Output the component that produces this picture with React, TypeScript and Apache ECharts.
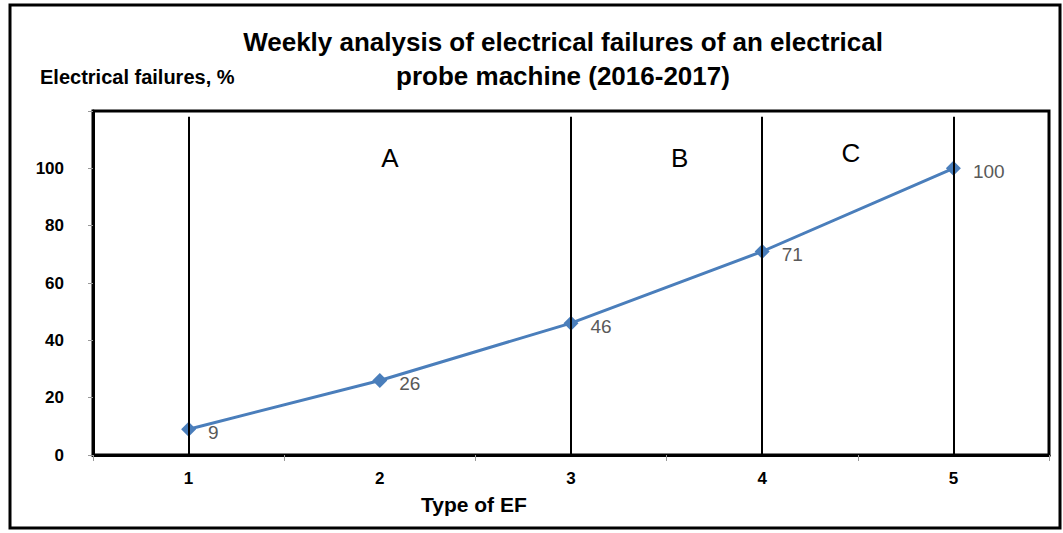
import React, { useEffect, useRef } from "react";
import * as echarts from "echarts";

const categories = ["1", "2", "3", "4", "5"];
const failures = [9, 26, 46, 71, 100];
const yTicks = [0, 20, 40, 60, 80, 100];
const dividerCategories = ["1", "3", "4", "5"];
const zoneNames = ["A", "B", "C"];
const zoneFrom = ["1", "3", "4"];
const zoneTo = ["3", "4", "5"];

const titleText = "Weekly analysis of electrical failures of an electrical\nprobe machine (2016-2017)";
const yName = "Electrical failures, %";
const xName = "Type of EF";

const FONT = "'Liberation Sans', Arial, sans-serif";
const zoneOffsets = [[10, 0], [13, 0], [-7, -5]];

export default function App() {
  const ref = useRef<HTMLDivElement>(null);
  useEffect(() => {
    if (!ref.current) return;
    const chart = echarts.init(ref.current, undefined, { renderer: "svg" });
    const option: any = {
      animation: false,
      backgroundColor: "#fff",
      textStyle: { fontFamily: FONT },
      title: {
        text: titleText,
        left: 558,
        textAlign: "center",
        top: 20,
        textStyle: { fontFamily: FONT, fontSize: 26, fontWeight: "bold", color: "#000", lineHeight: 34 },
      },
      grid: {
        left: 93,
        right: 14,
        top: 111,
        bottom: 78,
        show: true,
        borderColor: "#000",
        borderWidth: 3,
        backgroundColor: "transparent",
      },
      xAxis: {
        type: "category",
        data: categories,
        boundaryGap: true,
        axisLine: { show: true, lineStyle: { color: "#000", width: 3 } },
        axisTick: { show: true, length: 6, lineStyle: { color: "#999", width: 1 } },
        axisLabel: { fontFamily: FONT, fontSize: 17, fontWeight: "bold", color: "#000", margin: 15 },
        splitLine: { show: false },
      },
      yAxis: {
        type: "value",
        min: 0,
        max: 120,
        interval: 20,
        axisLine: { show: true, lineStyle: { color: "#000", width: 3 } },
        axisTick: { show: true, length: 5, lineStyle: { color: "#999", width: 1 } },
        axisLabel: {
          fontFamily: FONT,
          fontSize: 17,
          fontWeight: "bold",
          color: "#000",
          margin: 29,
          formatter: (v: number) => (yTicks.includes(v) ? String(v) : ""),
        },
        splitLine: { show: false },
      },
      series: [
        {
          type: "line",
          data: failures,
          symbol: "diamond",
          symbolSize: 15,
          lineStyle: { color: "#4A7EBB", width: 3 },
          itemStyle: { color: "#4A7EBB" },
          label: {
            show: true,
            position: "right",
            distance: 12,
            offset: [0, 3],
            fontFamily: FONT,
            fontSize: 19,
            color: "#595959",
          },
          markLine: {
            silent: true,
            symbol: "none",
            label: { show: false },
            lineStyle: { color: "#000", width: 2, type: "solid" },
            data: dividerCategories.map((c) => [
              { xAxis: c, yAxis: 118 },
              { xAxis: c, yAxis: 0 },
            ]),
          },
          markArea: {
            silent: true,
            itemStyle: { color: "rgba(0,0,0,0)" },
            label: {
              show: true,
              position: "insideTop",
              distance: 34,
              fontFamily: FONT,
              fontSize: 26,
              color: "#000",
            },
            data: zoneNames.map((n, i) => [
              { name: n, xAxis: zoneFrom[i], label: { offset: zoneOffsets[i] } },
              { xAxis: zoneTo[i] },
            ]),
          },
        },
      ],
      graphic: [
        {
          type: "rect",
          shape: { x: 10, y: 5, width: 1050, height: 523 },
          style: { fill: "none", stroke: "#000", lineWidth: 3 },
          silent: true,
        },
        {
          type: "text",
          left: 40,
          top: 67,
          style: { text: yName, fontFamily: FONT, fontSize: 20, fontWeight: "bold", fill: "#000" },
        },
        {
          type: "text",
          left: 421,
          top: 494,
          style: { text: xName, fontFamily: FONT, fontSize: 21, fontWeight: "bold", fill: "#000" },
        },
      ],
    };
    chart.setOption(option);
    return () => chart.dispose();
  }, []);
  return (
    <div
      ref={ref}
      style={{ position: "fixed", left: 0, top: 0, width: 1063, height: 533 }}
    />
  );
}
